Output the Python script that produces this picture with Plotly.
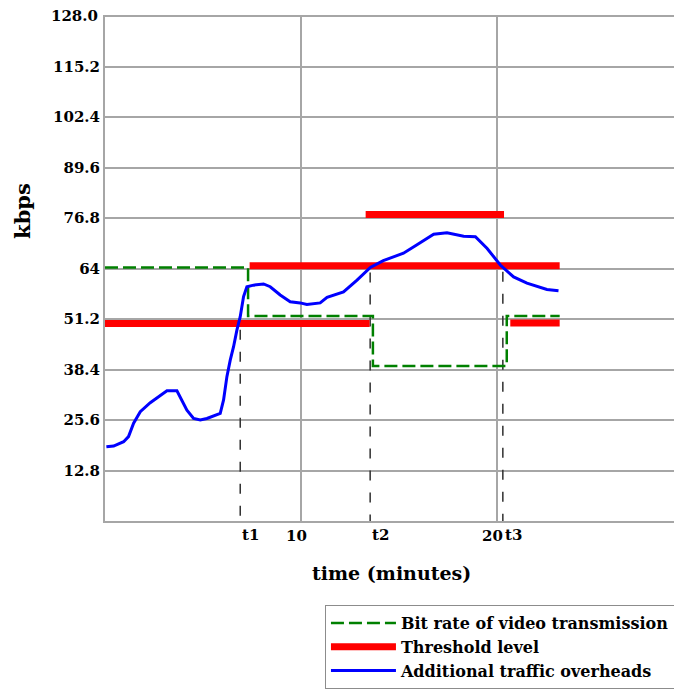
import plotly.graph_objects as go

# ---- data ----
y_tick_vals = [12.8, 25.6, 38.4, 51.2, 64, 76.8, 89.6, 102.4, 115.2, 128.0]
y_tick_text = ["12.8", "25.6", "38.4", "51.2", "64", "76.8", "89.6", "102.4", "115.2", "128.0"]
x_tick_vals = [10, 20]
x_tick_text = ["10", "20"]

event_names = ["t1", "t2", "t3"]
event_x = [6.9, 13.53, 20.3]
event_top = [48.5, 63.0, 63.2]

bitrate_x = [0, 7.3, 7.3, 13.67, 13.67, 20.5, 20.5, 23.2]
bitrate_y = [64.3, 64.3, 52.0, 52.0, 39.3, 39.3, 52.0, 52.0]

threshold_x = [0, 13.5, None, 7.38, 23.2, None, 13.3, 20.36, None, 20.68, 23.2]
threshold_y = [50.1, 50.1, None, 64.7, 64.7, None, 77.7, 77.7, None, 50.2, 50.2]

traffic_x = [0.07, 0.44, 0.95, 1.2, 1.46, 1.8, 2.31, 2.82, 3.16, 3.67, 3.93, 4.18, 4.52,
             4.86, 5.2, 5.88, 6.05, 6.22, 6.39, 6.56, 6.73, 6.9, 7.07, 7.24, 7.58, 8.09,
             8.43, 8.94, 9.45, 9.96, 10.3, 10.98, 11.33, 12.17, 12.86, 13.54, 14.2, 15.23,
             15.9, 16.77, 17.45, 18.3, 18.9, 19.5, 20.17, 20.85, 21.53, 22.55, 23.14]
traffic_y = [18.8, 19.0, 20.1, 21.4, 24.8, 27.7, 30.0, 31.9, 33.0, 33.0, 30.3, 28.1, 26.0,
             25.6, 26.0, 27.3, 30.7, 36.6, 40.8, 44.2, 48.4, 51.8, 56.9, 59.4, 59.8, 60.1,
             59.4, 57.3, 55.6, 55.3, 54.9, 55.3, 56.7, 58.1, 61.1, 64.3, 66.0, 67.9,
             70.0, 72.7, 73.1, 72.2, 72.1, 69.1, 64.9, 61.9, 60.3, 58.7, 58.4]

FONT = "DejaVu Serif"
GRID = "#a6a6a6"
TICKFONT = dict(family=FONT, size=15, color="black", weight="bold")

fig = go.Figure()

# event markers (dashed black verticals)
for name, ex, top in zip(event_names, event_x, event_top):
    fig.add_trace(go.Scatter(x=[ex, ex], y=[top, 0], mode="lines",
                             line=dict(color="#303030", width=1.5, dash="10px,12px"),
                             showlegend=False, hoverinfo="skip"))

fig.add_trace(go.Scatter(x=bitrate_x, y=bitrate_y, mode="lines",
                         name="Bit rate of video transmission",
                         line=dict(color="#008000", width=2.5, dash="13px,5px")))
fig.add_trace(go.Scatter(x=threshold_x, y=threshold_y, mode="lines",
                         name="Threshold level", connectgaps=False,
                         line=dict(color="#ff0000", width=7)))
fig.add_trace(go.Scatter(x=traffic_x, y=traffic_y, mode="lines",
                         name="Additional traffic overheads",
                         line=dict(color="#0000ff", width=3)))

annotations = []
for name, ex in zip(event_names, event_x):
    annotations.append(dict(x=ex, y=0, xref="x", yref="paper", text=name,
                            showarrow=False, xanchor="left", yanchor="top",
                            xshift=0, yshift=-3, font=TICKFONT))
for v, t in zip(x_tick_vals, x_tick_text):
    annotations.append(dict(x=v, y=0, xref="x", yref="paper", text=t,
                            showarrow=False, xanchor="center", yanchor="top",
                            xshift=-4, yshift=-4, font=TICKFONT))
# the top y label sits at the very top edge of the page; draw it as an annotation
axis_tick_text = y_tick_text[:-1] + [""]
annotations.append(dict(x=0, y=y_tick_vals[-1], xref="paper", yref="y", text=y_tick_text[-1],
                        showarrow=False, xanchor="right", yanchor="middle",
                        xshift=-5, font=TICKFONT))
annotations.append(dict(x=0.489, y=-0.103, xref="paper", yref="paper", text="time (minutes)",
                        showarrow=False, xanchor="center", yanchor="middle",
                        font=dict(family=FONT, size=19, color="black", weight="bold")))
annotations.append(dict(x=-0.140, y=0.613, xref="paper", yref="paper", text="kbps",
                        textangle=-90, showarrow=False, xanchor="center", yanchor="middle",
                        font=dict(family=FONT, size=21, color="black", weight="bold")))

fig.update_layout(
    width=682, height=695,
    margin=dict(l=97, r=0, t=7, b=182),
    plot_bgcolor="white", paper_bgcolor="white",
    showlegend=True,
    legend=dict(x=0.376, y=-0.166, xanchor="left", yanchor="top",
                bordercolor="#8c8c8c", borderwidth=1, bgcolor="white",
                itemwidth=65, font=dict(family=FONT, size=16, color="black", weight="bold"),
                tracegroupgap=0),
    annotations=annotations,
    xaxis=dict(range=[0, 29.85], tickvals=x_tick_vals, showticklabels=False,
               showgrid=True, gridcolor=GRID, gridwidth=2, zeroline=False,
               showline=True, linecolor=GRID, linewidth=2, ticks=""),
    yaxis=dict(range=[0, 128.3], tickvals=y_tick_vals, ticktext=axis_tick_text,
               showgrid=True, gridcolor=GRID, gridwidth=2, zeroline=False,
               showline=True, linecolor=GRID, linewidth=2, ticks="",
               ticklabelstandoff=0, tickfont=TICKFONT),
)

fig.write_html("out.html")
